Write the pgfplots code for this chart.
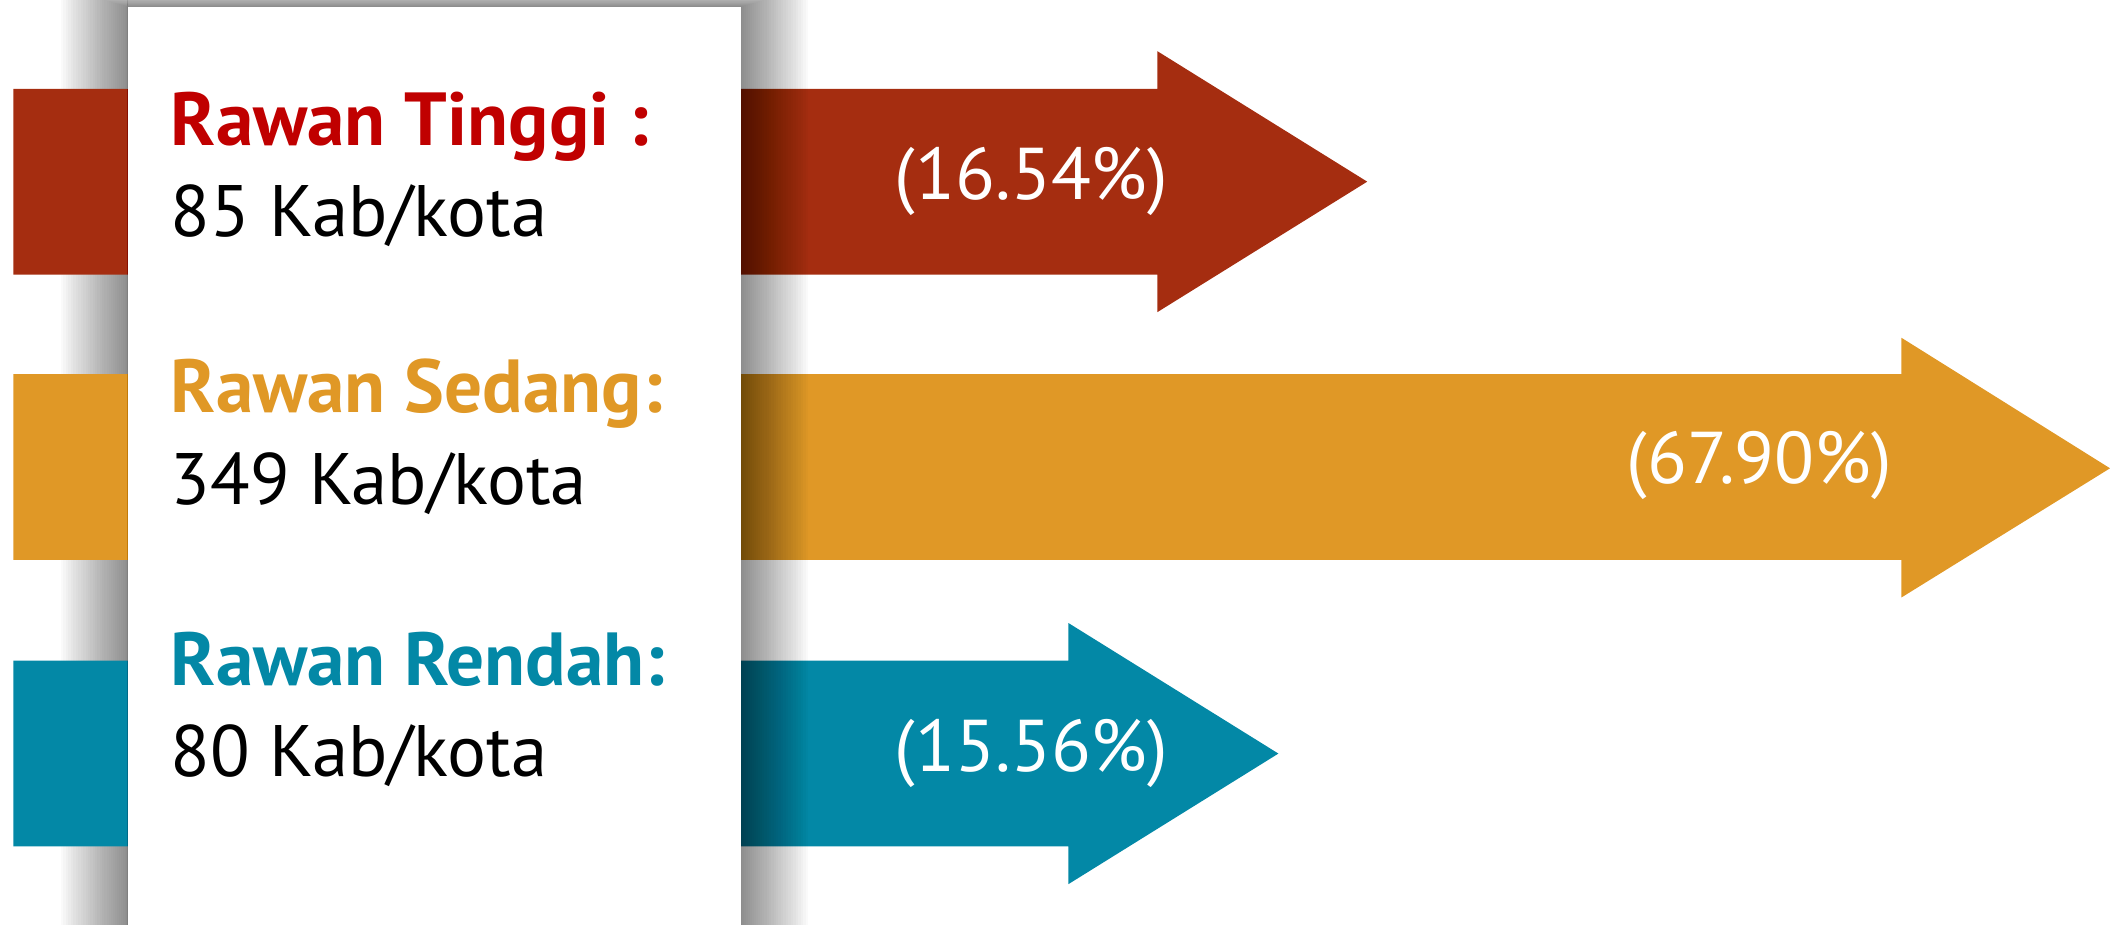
\documentclass[border=0pt]{standalone}
\usepackage{pgfplots}
\pgfplotsset{compat=1.18}
\usepackage{fontspec}
\setmainfont{PT Sans}
\definecolor{redbar}{HTML}{A52D10}
\definecolor{redtxt}{HTML}{C00000}
\definecolor{orangebar}{HTML}{E09826}
\definecolor{tealbar}{HTML}{0388A6}
\newcommand{\cardshadow}{%
  \foreach \i in {1,...,30}{
    \fill[black, opacity=0.019] ({95-50*(\i/30)^1.15},{5-14*(\i/30)^1.15}) rectangle ({551+50*(\i/30)^1.15},720);
  }}
\begin{document}
\begin{tikzpicture}
% shadow of the card, left part (lies under the bars)
\begin{scope}[x=0.01cm, y=-0.01cm, yshift=6.87cm]
  \clip (0,-20) rectangle (95,720);
  \cardshadow
\end{scope}
\begin{axis}[anchor=south west, at={(0,0)}, scale only axis,
  width=15.68cm, height=6.87cm,
  xmin=0, xmax=1568, ymin=0, ymax=687, y dir=reverse,
  axis lines=none, clip=false]
% Rawan Tinggi arrow
\addplot[fill=redbar, draw=none] coordinates {(10,66) (860,66) (860,38) (1016,135) (860,232) (860,204) (10,204)} -- cycle;
% Rawan Sedang arrow
\addplot[fill=orangebar, draw=none] coordinates {(10,278) (1413,278) (1413,251) (1568,348) (1413,444) (1413,416) (10,416)} -- cycle;
% Rawan Rendah arrow
\addplot[fill=tealbar, draw=none] coordinates {(10,491) (794,491) (794,463) (950,560) (794,657) (794,629) (10,629)} -- cycle;
\end{axis}
\begin{scope}[x=0.01cm, y=-0.01cm, yshift=6.87cm]
  \begin{scope}
    \clip (95,-20) rectangle (1600,720);
    \cardshadow
  \end{scope}
  \fill[white] (95,5) rectangle (551,720);
  \begin{scope}[every node/.style={inner sep=0pt, outer sep=0pt}]
  \node[anchor=base west, text=redtxt, font=\fontsize{15.9}{18}\selectfont\bfseries] at (127,108) {Rawan Tinggi :};
  \node[anchor=base west, font=\fontsize{15.4}{18}\selectfont] at (127,176) {85 Kab/kota};
  \node[anchor=base west, text=orangebar, font=\fontsize{15.9}{18}\selectfont\bfseries] at (127,307) {Rawan Sedang:};
  \node[anchor=base west, font=\fontsize{15.4}{18}\selectfont] at (127,375) {349 Kab/kota};
  \node[anchor=base west, text=tealbar, font=\fontsize{15.9}{18}\selectfont\bfseries] at (127,510) {Rawan Rendah:};
  \node[anchor=base west, font=\fontsize{15.4}{18}\selectfont] at (127,577) {80 Kab/kota};
  \node[text=white, font=\fontsize{15.5}{18}\selectfont] at (767,135) {(16.54\%)};
  \node[text=white, font=\fontsize{15.5}{18}\selectfont] at (1308,346) {(67.90\%)};
  \node[text=white, font=\fontsize{15.5}{18}\selectfont] at (767,560) {(15.56\%)};
  \end{scope}
\end{scope}
\pgfresetboundingbox
\useasboundingbox (0,0) rectangle (15.68cm,6.87cm);
\end{tikzpicture}
\end{document}
